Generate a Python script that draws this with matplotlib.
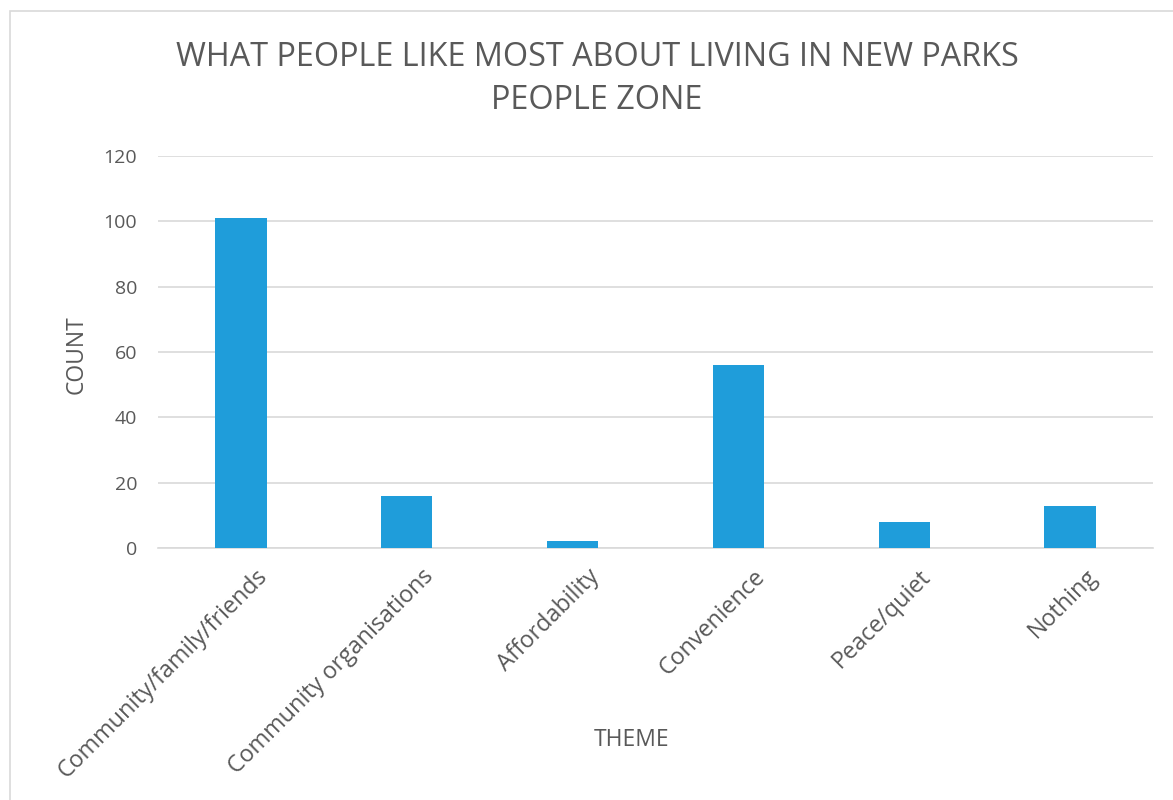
import matplotlib.pyplot as plt
from matplotlib.patches import Rectangle
from matplotlib.transforms import ScaledTranslation

plt.rcParams['font.family'] = ['Open Sans', 'DejaVu Sans']

# data
themes = ['Community/family/friends', 'Community organisations', 'Affordability',
          'Convenience', 'Peace/quiet', 'Nothing']
counts = [101, 16, 2, 56, 8, 13]

text_col = '#595959'
bar_col = '#1F9DDA'
grid_col = '#D9D9D9'

fig = plt.figure(figsize=(11.73, 8), dpi=100)
ax = fig.add_axes([0.1347, 0.315, 0.983 - 0.1347, 0.805 - 0.315])

x = range(len(themes))
ax.bar(x, counts, width=0.31, color=bar_col, zorder=3)

ax.set_xlim(-0.5, len(themes) - 0.5)
ax.set_ylim(0, 120)
ax.set_yticks(range(0, 121, 20))
ax.set_xticks(list(x))
ax.set_xticklabels(themes, rotation=45, ha='right', rotation_mode='anchor',
                   fontsize=16.8, color=text_col)
ax.tick_params(axis='y', labelsize=14, labelcolor=text_col, length=0, pad=15)
ax.tick_params(axis='x', length=0, pad=12)
# shift rotated labels a bit right, like Excel does
shift = ScaledTranslation(15 / 100, 0, fig.dpi_scale_trans)
for lab in ax.get_xticklabels():
    lab.set_transform(lab.get_transform() + shift)

ax.grid(axis='y', color=grid_col, linewidth=1.2, zorder=0)
for s in ['top', 'right', 'left']:
    ax.spines[s].set_visible(False)
ax.spines['bottom'].set_color(grid_col)
ax.spines['bottom'].set_linewidth(1.2)

fig.text(77 / 1173, 1 - 355 / 800, 'COUNT', fontsize=16.5, color=text_col,
         rotation=90, ha='center', va='center')
fig.text(0.538, 0.075, 'THEME', fontsize=16.5, color=text_col, ha='center', va='center')

fig.text(0.509, 0.901, 'WHAT PEOPLE LIKE MOST ABOUT LIVING IN NEW PARKS\nPEOPLE ZONE',
         fontsize=23.3, color=text_col, ha='center', va='center', linespacing=1.4)

# chart border
fig.patches.append(Rectangle((10 / 1173, -0.1), 1.2, 1 - 11 / 800 + 0.1,
                             transform=fig.transFigure, fill=False,
                             edgecolor='#D9D9D9', linewidth=1.2))

fig.savefig('out.png', dpi=100)
